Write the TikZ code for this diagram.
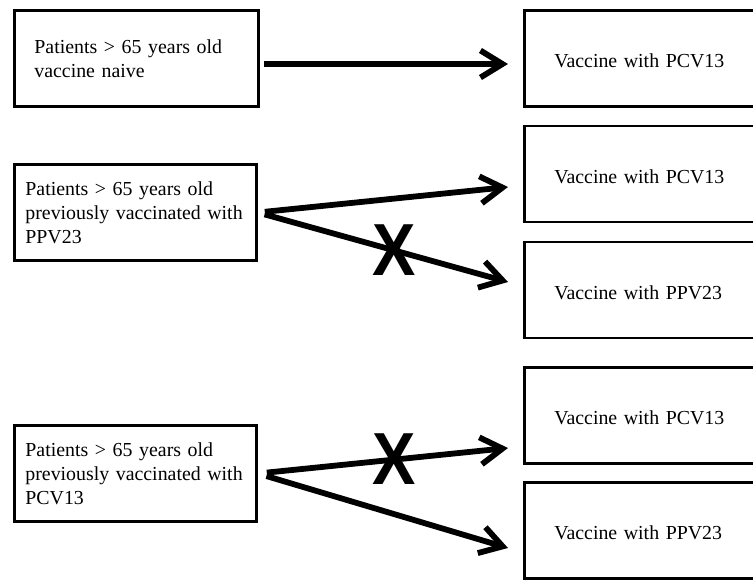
\documentclass[tikz,border=0pt]{standalone}
\usepackage{fontspec}
\setmainfont{Liberation Serif}
\newfontfamily\crossfont{Liberation Sans}
\usetikzlibrary{arrows.meta}

\begin{document}
\begin{tikzpicture}
        [
            x=0.2mm, y=-0.2mm,
            every node/.style={font=\fontsize{11.3}{13.6}\selectfont},
            patientbox/.style={draw, line width=1.6pt, anchor=west, align=left, minimum height=19.2mm},
            vaccinebox/.style={draw, line width=1.6pt, anchor=west, align=left, minimum height=19.2mm, inner xsep=6mm, text width=40mm, text height=3.8mm},
            route/.style={draw, line width=3.3pt, -{Straight Barb[length=4.4mm, width=5.4mm]}},
            cross/.style={font=\crossfont\bfseries\fontsize{42}{42}\selectfont, inner sep=0pt, xscale=0.88}
        ]

        \clip (0,0) rectangle (753,581);

        \node[patientbox, inner xsep=4mm, text width=40.8mm] (p1) at (13,58.5) {Patients > 65 years old\\vaccine naive};
        \node[patientbox, inner xsep=2.2mm, text width=44mm] (p2) at (13,212.5) {Patients > 65 years old\\previously vaccinated with\\PPV23};
        \node[patientbox, inner xsep=2.2mm, text width=44mm] (p3) at (13,473.5) {Patients > 65 years old\\previously vaccinated with\\PCV13};

        \node[vaccinebox] (v1) at (523,58.5) {Vaccine with PCV13};
        \node[vaccinebox] (v2) at (523,174) {Vaccine with PCV13};
        \node[vaccinebox] (v3) at (523,290) {Vaccine with PPV23};
        \node[vaccinebox] (v4) at (523,415.5) {Vaccine with PCV13};
        \node[vaccinebox] (v5) at (523,530.5) {Vaccine with PPV23};

        \coordinate (s1) at (264,64);
        \coordinate (t2) at (508,187);
        \coordinate (t3) at (508,282);
        \coordinate (t4) at (508,448);
        \coordinate (t5) at (508,548);

        \draw[route, shorten >=3mm] (s1) -- (s1 -| v1.west);
        \draw[route, shorten <=1.4mm] (p2.east) -- (t2);
        \draw[route, shorten <=1.4mm] (p2.east) -- (t3) node[cross, pos=0.545] (x1) {X};
        \draw[route, shorten <=1.8mm] (p3.east) -- (t4) node[cross, pos=0.545] (x2) {X};
        \draw[route, shorten <=1.8mm] (p3.east) -- (t5);
    \end{tikzpicture}
\end{document}
